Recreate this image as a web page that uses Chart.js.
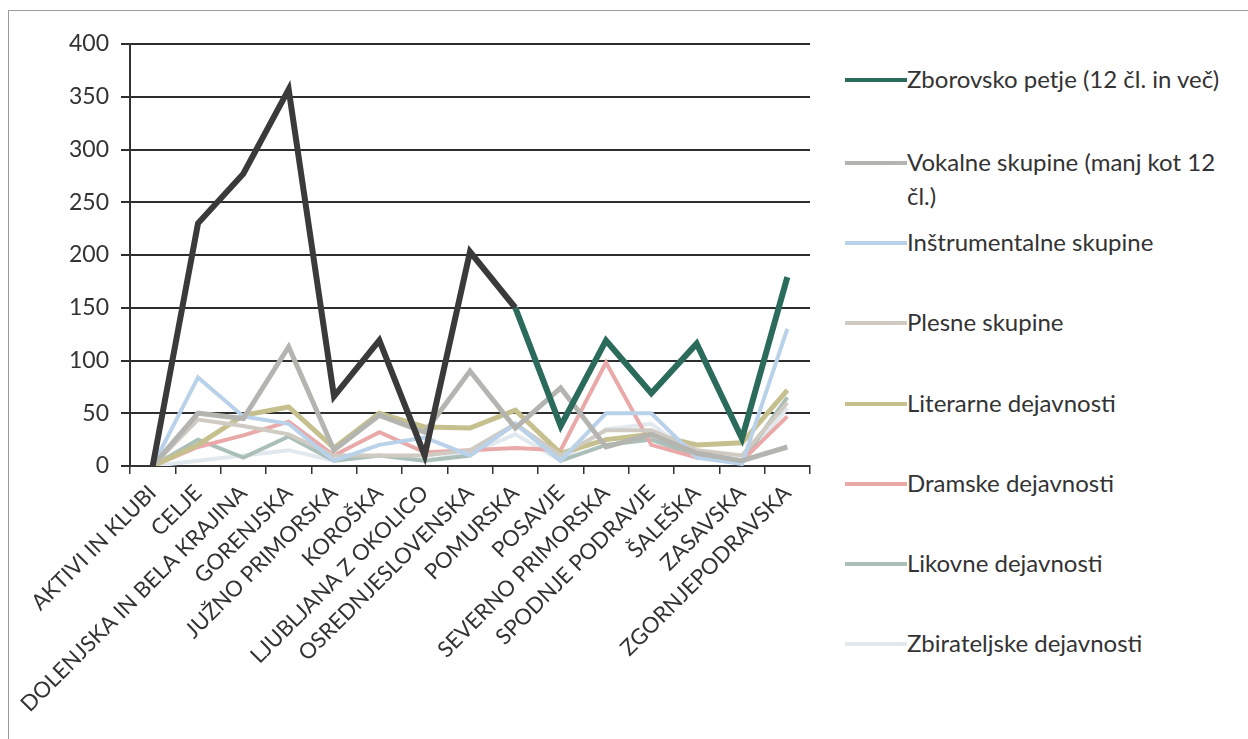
<!DOCTYPE html>
<html>
<head>
<meta charset="utf-8">
<script src="https://cdn.jsdelivr.net/npm/chart.js@4/dist/chart.umd.min.js"></script>
<style>
  html, body { margin: 0; padding: 0; background: #fff; }
  body { width: 1248px; height: 739px; position: relative; overflow: hidden; font-family: Lato, "Open Sans", sans-serif; }
  #frame { position: absolute; left: 8px; top: 10px; width: 1240px; height: 740px; border-left: 1px solid #9a9a9a; border-top: 1px solid #9a9a9a; }
  #wrap { position: absolute; left: 0; top: 0; width: 830px; height: 739px; }
  #legend { position: absolute; left: 845px; top: 0; width: 400px; margin: 0; padding: 0; list-style: none; }
  #legend li { position: absolute; left: 0; display: flex; align-items: flex-start; font-size: 24px; line-height: 34px; color: #333; }
  #legend .swatch { width: 62px; height: 4px; margin-top: 16px; flex: none; }
</style>
</head>
<body>
<div id="frame"></div>
<div id="wrap"><canvas id="lineChart" width="830" height="739"></canvas></div>
<ul id="legend"></ul>

<script>
// categories (regions) along the x axis
const regions = [
  'AKTIVI IN KLUBI', 'CELJE', 'DOLENJSKA IN BELA KRAJINA', 'GORENJSKA', 'JUŽNO PRIMORSKA',
  'KOROŠKA', 'LJUBLJANA Z OKOLICO', 'OSREDNJESLOVENSKA', 'POMURSKA', 'POSAVJE',
  'SEVERNO PRIMORSKA', 'SPODNJE PODRAVJE', 'ŠALEŠKA', 'ZASAVSKA', 'ZGORNJEPODRAVSKA'
];

// values (estimated where lines overlap)
const zborovsko      = [0, 230, 277, 357, 66, 119, 10, 203, 150, 38, 119, 69, 116, 26, 179];
const vokalne        = [0, 50, 45, 113, 15, 48, 32, 90, 36, 74, 18, 30, 12, 5, 18];
const instrumentalne = [0, 84, 47, 40, 5, 20, 27, 10, 40, 5, 50, 50, 8, 2, 130];
const plesne         = [0, 44, 38, 30, 10, 10, 10, 15, 40, 10, 34, 34, 15, 10, 60];
const literarne      = [0, 20, 48, 56, 17, 50, 37, 36, 53, 12, 25, 30, 20, 22, 72];
const dramske        = [0, 18, 29, 42, 10, 32, 13, 15, 17, 15, 98, 20, 8, 5, 47];
const likovne        = [0, 25, 8, 28, 5, 10, 5, 10, 40, 5, 20, 25, 10, 5, 65];
const zbirateljske   = [0, 5, 10, 15, 5, 10, 5, 12, 30, 5, 35, 40, 8, 3, 55];

const yTicks = [0, 50, 100, 150, 200, 250, 300, 350, 400];

// legend rows sit at fixed heights on the right, like the original
const legendTops = [62, 145, 225, 305, 386, 466, 546, 626];

const greenDark = '#2b6b5b';

const datasets = [
  {
    label: 'Zborovsko petje (12 čl. in več)', data: zborovsko, borderColor: greenDark, borderWidth: 6,
    // the scan shows the left half of this line as almost black
    segment: { borderColor: (ctx) => ctx.p0DataIndex < 8 ? '#3a3a3a' : greenDark }
  },
  { label: 'Vokalne skupine (manj kot 12 čl.)', data: vokalne, borderColor: '#b4b4b0', borderWidth: 5 },
  { label: 'Inštrumentalne skupine', data: instrumentalne, borderColor: '#b9d2ea', borderWidth: 4 },
  { label: 'Plesne skupine', data: plesne, borderColor: '#cfcac2', borderWidth: 4 },
  { label: 'Literarne dejavnosti', data: literarne, borderColor: '#c6c08e', borderWidth: 5 },
  { label: 'Dramske dejavnosti', data: dramske, borderColor: '#e9a9a9', borderWidth: 4 },
  { label: 'Likovne dejavnosti', data: likovne, borderColor: '#a9bfb8', borderWidth: 4 },
  { label: 'Zbirateljske dejavnosti', data: zbirateljske, borderColor: '#e1e8ee', borderWidth: 4 },
];

// draw the legend as html so the long label can wrap
const htmlLegend = {
  id: 'htmlLegend',
  afterUpdate(chart) {
    const ul = document.getElementById('legend');
    ul.innerHTML = '';
    chart.data.datasets.forEach((ds, i) => {
      const li = document.createElement('li');
      li.style.top = legendTops[i] + 'px';
      const sw = document.createElement('span');
      sw.className = 'swatch';
      sw.style.background = ds.borderColor;
      const txt = document.createElement('span');
      txt.textContent = ds.label;
      if (i === 1) txt.style.width = '330px';
      li.appendChild(sw);
      li.appendChild(txt);
      ul.appendChild(li);
    });
  }
};

const ctx = document.getElementById('lineChart');
new Chart(ctx, {
  type: 'line',
  data: { labels: regions, datasets: datasets },
  plugins: [htmlLegend],
  options: {
    responsive: false,
    animation: false,
    layout: { padding: { top: 44, right: 20, left: 0, bottom: 0 } },
    elements: { point: { radius: 0 }, line: { tension: 0 } },
    plugins: { legend: { display: false }, tooltip: { enabled: false } },
    scales: {
      x: {
        offset: true,
        afterFit: (scale) => { scale.height = 273; },
        grid: { display: true, offset: true, drawOnChartArea: false, tickLength: 8, color: '#333', lineWidth: 1.5 },
        border: { color: '#333', width: 2 },
        ticks: {
          autoSkip: false, maxRotation: 45, minRotation: 45, padding: 6,
          color: '#333', font: { family: 'Lato', size: 22 }
        }
      },
      y: {
        min: 0, max: 400,
        afterBuildTicks: (scale) => { scale.ticks = yTicks.map(v => ({ value: v })); },
        afterFit: (scale) => { scale.width = 130; },
        grid: { color: '#2e2e2e', lineWidth: 2, tickLength: 9 },
        border: { color: '#333', width: 2 },
        ticks: { padding: 12, color: '#333', font: { family: 'Lato', size: 23 } }
      }
    }
  }
});
</script>
</body>
</html>
